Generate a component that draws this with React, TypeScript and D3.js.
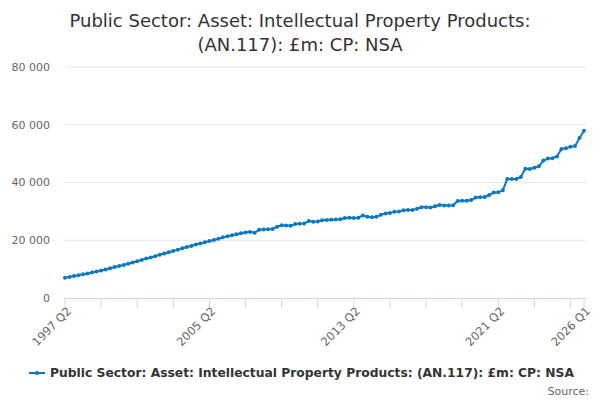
import { useEffect, useRef } from 'react';
import * as d3 from 'd3';

// Quarterly series, 1997 Q2 to 2026 Q1 (£m)
const startYear = 1997;
const startQuarter = 2;

const values: number[] = [
  7000, 7300, 7600, 7900, 8200, 8500, 8850, 9200, 9550, 9900,
  10300, 10700, 11050, 11400, 11850, 12300, 12750, 13200, 13650, 14050,
  14500, 14950, 15400, 15850, 16300, 16750, 17200, 17650, 18050, 18500,
  18900, 19300, 19700, 20100, 20500, 21000, 21400, 21700, 22100, 22400,
  22700, 22900, 22600, 23600, 23700, 23800, 23900, 24700, 25200, 25100,
  25000, 25600, 25700, 25800, 26700, 26400, 26500, 26900, 27000, 27100,
  27200, 27300, 27700, 27800, 27700, 27800, 28600, 28100, 28000, 28100,
  28800, 29300, 29400, 29900, 30000, 30400, 30500, 30500, 30900, 31400,
  31400, 31300, 31800, 32200, 32000, 32000, 32100, 33600, 33700, 33700,
  33900, 34800, 34900, 35000, 35700, 36500, 36600, 37300, 41200, 41200,
  41200, 41900, 44800, 44700, 45100, 45600, 47600, 48300, 48400, 49000,
  51600, 51900, 52400, 52600, 55400, 57900,
];

const quarters: string[] = values.map((_, i) => {
  const q = startQuarter - 1 + i;
  return `${startYear + Math.floor(q / 4)} Q${(q % 4) + 1}`;
});

const yTicks = [0, 20000, 40000, 60000, 80000];
const labelledQuarters = ['1997 Q2', '2005 Q2', '2013 Q2', '2021 Q2', '2026 Q1'];

const title = ['Public Sector: Asset: Intellectual Property Products:', '(AN.117): £m: CP: NSA'];
const seriesName = 'Public Sector: Asset: Intellectual Property Products: (AN.117): £m: CP: NSA';

const LineChart: React.FC = () => {
  const svgRef = useRef<SVGSVGElement | null>(null);

  useEffect(() => {
    if (!svgRef.current) return;
    const width = 600;
    const height = 400;
    const font = '"DejaVu Sans", sans-serif';
    const blue = '#0b79c1';

    const svg = d3.select(svgRef.current).attr('width', width).attr('height', height);
    svg.selectAll('*').remove();

    const x = d3.scalePoint<string>().domain(quarters).range([65, 584]);
    const y = d3.scaleLinear().domain([0, 80000]).range([298, 67]);
    const fmt = (v: number) => d3.format(',')(v).replace(/,/g, ' ');

    // title
    svg
      .append('text')
      .attr('x', width / 2)
      .attr('text-anchor', 'middle')
      .style('font-family', font)
      .style('font-size', '18px')
      .attr('fill', '#333')
      .selectAll('tspan')
      .data(title)
      .join('tspan')
      .attr('x', width / 2)
      .attr('y', (_, i) => 27 + i * 24)
      .text((d) => d);

    // grid + y labels
    yTicks.forEach((t) => {
      if (t > 0) {
        svg
          .append('line')
          .attr('x1', 65)
          .attr('x2', 586)
          .attr('y1', y(t))
          .attr('y2', y(t))
          .attr('stroke', '#e6e6e6');
      }
      svg
        .append('text')
        .attr('x', 50)
        .attr('y', y(t))
        .attr('dy', '0.35em')
        .attr('text-anchor', 'end')
        .style('font-family', font)
        .style('font-size', '11px')
        .attr('fill', '#666')
        .text(fmt(t));
    });

    // x axis
    svg
      .append('line')
      .attr('x1', 65)
      .attr('x2', 586)
      .attr('y1', y(0) + 0.5)
      .attr('y2', y(0) + 0.5)
      .attr('stroke', '#ccd6eb');

    quarters.forEach((q, i) => {
      if (i % 8 === 0 || i === quarters.length - 1) {
        svg
          .append('line')
          .attr('x1', x(q)!)
          .attr('x2', x(q)!)
          .attr('y1', y(0))
          .attr('y2', y(0) + 10)
          .attr('stroke', '#ccd6eb');
      }
    });

    labelledQuarters.forEach((q) => {
      svg
        .append('text')
        .attr('transform', `translate(${x(q)! + 4}, 309) rotate(-45)`)
        .attr('text-anchor', 'end')
        .attr('dy', '0.35em')
        .style('font-family', font)
        .style('font-size', '11.5px')
        .attr('fill', '#666')
        .text(q);
    });

    // series
    const line = d3
      .line<number>()
      .x((_, i) => x(quarters[i])!)
      .y((d) => y(d));

    svg
      .append('path')
      .datum(values)
      .attr('d', line)
      .attr('fill', 'none')
      .attr('stroke', blue)
      .attr('stroke-width', 2);

    svg
      .append('g')
      .selectAll('circle')
      .data(values)
      .join('circle')
      .attr('cx', (_, i) => x(quarters[i])!)
      .attr('cy', (d) => y(d))
      .attr('r', 2)
      .attr('fill', blue);

    // legend
    svg
      .append('line')
      .attr('x1', 29)
      .attr('x2', 45)
      .attr('y1', 373)
      .attr('y2', 373)
      .attr('stroke', blue)
      .attr('stroke-width', 2);
    svg.append('circle').attr('cx', 37).attr('cy', 373).attr('r', 2).attr('fill', blue);
    svg
      .append('text')
      .attr('x', 50)
      .attr('y', 373)
      .attr('dy', '0.35em')
      .style('font-family', font)
      .style('font-size', '12.3px')
      .style('font-weight', 'bold')
      .attr('fill', '#333')
      .text(seriesName);

    svg
      .append('text')
      .attr('x', 589)
      .attr('y', 391)
      .attr('dy', '0.35em')
      .attr('text-anchor', 'end')
      .style('font-family', font)
      .style('font-size', '11px')
      .attr('fill', '#666')
      .text('Source:');
  }, []);

  return <svg ref={svgRef} style={{ display: 'block' }} />;
};

const App: React.FC = () => (
  <div style={{ position: 'absolute', left: 0, top: 0, background: '#fff' }}>
    <LineChart />
  </div>
);

export default App;
